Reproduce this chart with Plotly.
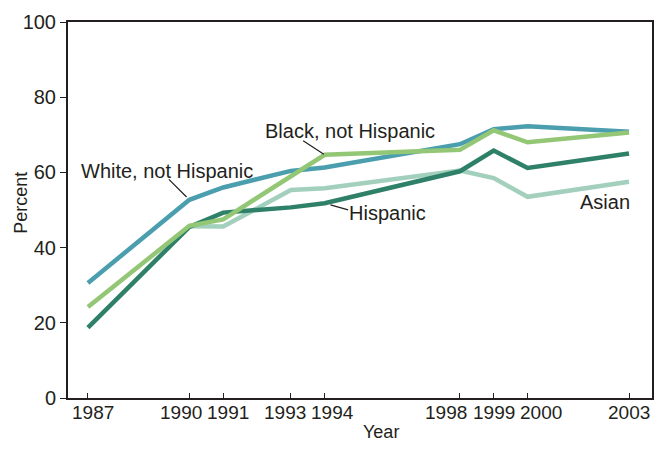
import plotly.graph_objects as go

years = [1987, 1990, 1991, 1993, 1994, 1998, 1999, 2000, 2003]
year_labels = ["1987", "1990", "1991", "1993", "1994", "1998", "1999", "2000", "2003"]
white = [30.6, 52.7, 56.0, 60.4, 61.3, 67.5, 71.5, 72.3, 70.8]
black = [24.2, 45.8, 47.5, 59.0, 64.7, 66.0, 71.2, 68.0, 70.6]
hispanic = [18.7, 45.5, 49.3, 50.7, 51.8, 60.3, 65.8, 61.2, 65.0]
asian_years = [1990, 1991, 1993, 1994, 1998, 1999, 2000, 2003]
asian = [45.7, 45.6, 55.3, 55.8, 60.5, 58.5, 53.5, 57.5]
y_ticks = [0, 20, 40, 60, 80, 100]

# small horizontal nudges so neighbouring year labels do not collide (as in the original)
label_shift = [5, -8, 5, -6, 8, -14, 0, 13, 0]

FONT = "Liberation Sans, Arial, sans-serif"
INK = "#231f20"
fig = go.Figure()
fig.add_trace(go.Scatter(x=asian_years, y=asian, mode="lines", line=dict(color="#a3cfbd", width=4.5)))
fig.add_trace(go.Scatter(x=years, y=hispanic, mode="lines", line=dict(color="#2f8068", width=4.5)))
fig.add_trace(go.Scatter(x=years, y=white, mode="lines", line=dict(color="#4a9eae", width=4.5)))
fig.add_trace(go.Scatter(x=years, y=black, mode="lines", line=dict(color="#93c776", width=4.5)))

txt = dict(showarrow=False, font=dict(size=20, color=INK, family=FONT), xanchor="center", yanchor="middle")
fig.add_annotation(x=1989.35, y=60.3, text="White, not Hispanic", **txt)
fig.add_annotation(x=1994.75, y=70.9, text="Black, not Hispanic", **txt)
fig.add_annotation(x=1995.85, y=49.3, text="Hispanic", **txt)
fig.add_annotation(x=2002.28, y=52.0, text="Asian", **txt)

arr = dict(text="", showarrow=True, arrowhead=0, arrowwidth=1.2, arrowcolor=INK, axref="pixel", ayref="pixel")
fig.add_annotation(x=1990, y=white[1], ax=-22, ay=-22, standoff=4, **arr)
fig.add_annotation(x=1994, y=black[4], ax=-23, ay=-15, standoff=1, **arr)
fig.add_annotation(x=1994, y=hispanic[4], ax=25, ay=7, standoff=6, **arr)

# x tick labels (nudged like the original)
for yr, lab, sh in zip(years, year_labels, label_shift):
    fig.add_annotation(x=yr, y=0, xref="x", yref="paper", text=lab, showarrow=False,
                       xanchor="center", yanchor="top", xshift=sh, yshift=-2,
                       font=dict(size=19, color=INK, family=FONT))

# axis titles
fig.add_annotation(x=0, y=0.519, xref="paper", yref="paper", text="Percent", showarrow=False,
                   textangle=-90, xanchor="center", yanchor="middle", xshift=-47,
                   font=dict(size=18, color=INK, family=FONT))
fig.add_annotation(x=0.536, y=0, xref="paper", yref="paper", text="Year", showarrow=False,
                   xanchor="center", yanchor="middle", yshift=-34,
                   font=dict(size=18, color=INK, family=FONT))

fig.update_layout(
    width=654, height=442,
    margin=dict(l=60, r=10, t=14, b=52),
    paper_bgcolor="white", plot_bgcolor="white",
    showlegend=False,
    font=dict(family=FONT, size=19, color=INK),
)
fig.update_xaxes(
    range=[1986.41, 2003.68], tickvals=years, showticklabels=False,
    ticks="inside", ticklen=5, tickcolor=INK, tickwidth=1,
    showline=True, linecolor=INK, linewidth=2, mirror=True,
    showgrid=False, zeroline=False, automargin=False,
)
fig.update_yaxes(
    range=[0, 100], tickvals=y_ticks,
    ticks="outside", ticklen=6, tickcolor=INK, tickwidth=1,
    showline=True, linecolor=INK, linewidth=2, mirror=True,
    showgrid=False, zeroline=False, automargin=False,
    tickfont=dict(size=20),
)
fig.write_html("out.html")
